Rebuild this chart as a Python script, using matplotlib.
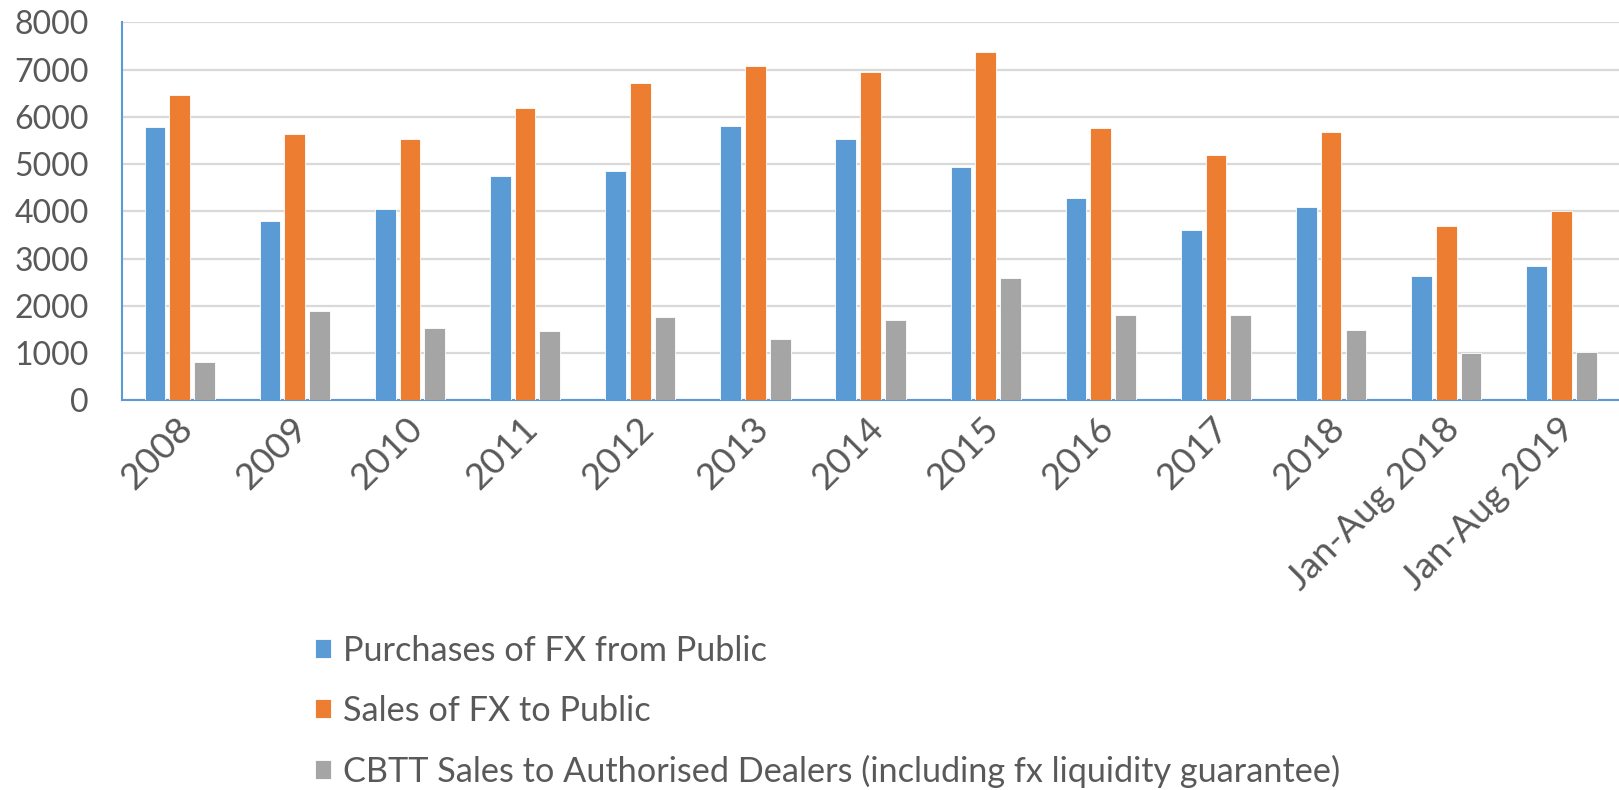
import matplotlib
matplotlib.use('Agg')
import matplotlib.pyplot as plt
import numpy as np

plt.rcParams['font.family'] = ['Lato', 'DejaVu Sans']

categories = ['2008', '2009', '2010', '2011', '2012', '2013', '2014', '2015',
              '2016', '2017', '2018', 'Jan-Aug 2018', 'Jan-Aug 2019']
purchases = [5780, 3800, 4040, 4750, 4850, 5800, 5520, 4930, 4280, 3600, 4090, 2620, 2840]
sales = [6455, 5630, 5530, 6180, 6710, 7070, 6955, 7380, 5770, 5185, 5670, 3690, 4015]
cbtt = [810, 1885, 1540, 1465, 1770, 1300, 1700, 2580, 1800, 1805, 1480, 1010, 1030]
series_names = ['Purchases of FX from Public', 'Sales of FX to Public',
                'CBTT Sales to Authorised Dealers (including fx liquidity guarantee)']
colors = ['#5B9BD5', '#ED7D31', '#A5A5A5']
txt = '#595959'

fig = plt.figure(figsize=(16.19, 7.9), dpi=100)
ax = fig.add_axes([0.0754, 0.4933, 0.9246, 0.4785])

x = np.arange(len(categories))
w = 0.18
step = 0.215
bars = []
for i, vals in enumerate([purchases, sales, cbtt]):
    b = ax.bar(x + (i - 1) * step, vals, width=w, color=colors[i],
               edgecolor='white', linewidth=0.6, zorder=3, label=series_names[i])
    bars.append(b)

ax.set_xlim(-0.5, len(categories) - 0.5)
ax.set_ylim(0, 8000)
ax.set_yticks(np.arange(0, 8001, 1000))
ax.yaxis.grid(True, color='#D9D9D9', linewidth=1.6, zorder=0)
ax.set_axisbelow(True)

for s in ['top', 'right']:
    ax.spines[s].set_visible(False)
for s in ['left', 'bottom']:
    ax.spines[s].set_color('#5B9BD5')
    ax.spines[s].set_linewidth(1.5)

ax.tick_params(axis='y', length=0, pad=24, labelsize=23, labelcolor=txt)
ax.tick_params(axis='x', length=0, pad=8, labelsize=26.5, labelcolor=txt)
ax.set_xticks(x)
ax.set_xticklabels(categories, rotation=45, ha='right', va='top', rotation_mode='anchor')
# nudge rotated labels so their ends sit under the group centre
for lab in ax.get_xticklabels():
    lab.set_transform(lab.get_transform() + matplotlib.transforms.ScaledTranslation(-4/100, 0, fig.dpi_scale_trans))

leg = fig.legend(handles=bars, labels=series_names, loc='upper left',
                 bbox_to_anchor=(0.186, 0.214), frameon=False, fontsize=24.7,
                 labelcolor=txt, handlelength=0.47, handleheight=0.47,
                 handletextpad=0.35, labelspacing=0.82, borderaxespad=0)

fig.savefig('out.png', dpi=100)
